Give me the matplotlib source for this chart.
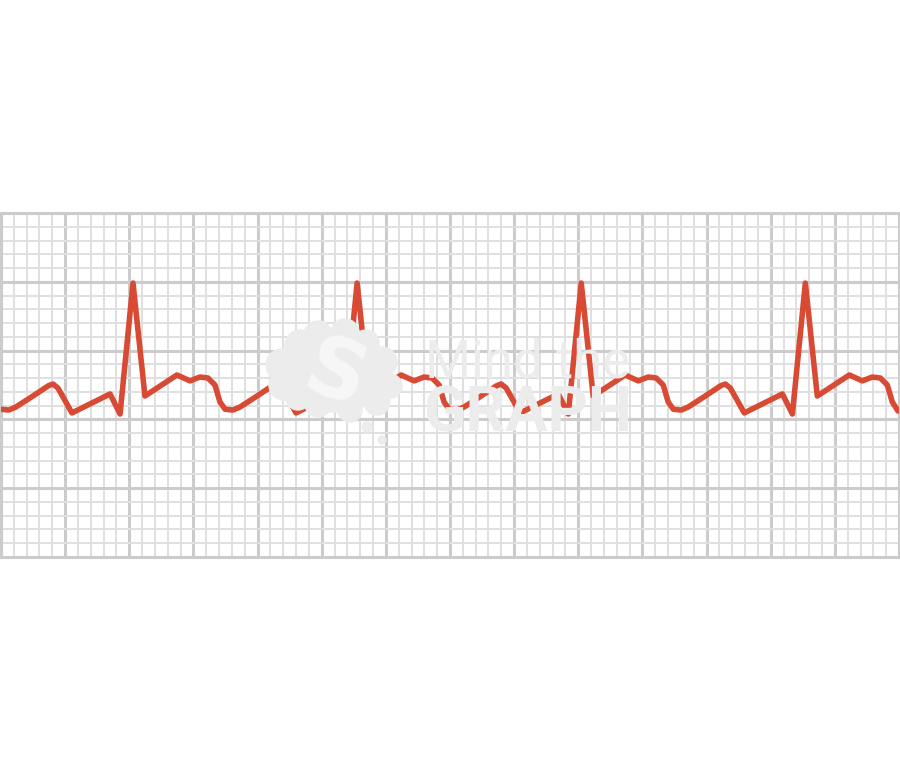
import matplotlib
matplotlib.use('Agg')
import matplotlib.pyplot as plt
from matplotlib.patches import Circle, Ellipse

t = [0.00, 0.61, 1.16, 2.49, 3.70, 4.05, 4.44, 5.53, 8.50, 9.28, 10.29, 11.22, 13.72, 14.73, 15.51, 16.13, 16.68, 17.07,
     17.47, 18.08, 18.63, 19.96, 21.17, 21.52, 21.91, 23.00, 25.97, 26.75, 27.76, 28.69, 31.19, 32.20, 32.98, 33.60, 34.15, 34.54,
     34.94, 35.55, 36.10, 37.43, 38.64, 38.99, 39.38, 40.47, 43.44, 44.22, 45.23, 46.16, 48.66, 49.67, 50.45, 51.07, 51.62, 52.01,
     52.41, 53.02, 53.57, 54.90, 56.11, 56.46, 56.85, 57.94, 60.91, 61.69, 62.70, 63.63, 66.13, 67.14, 67.92, 68.54, 69.09, 69.48,
     69.92]
mv = [10.74, 10.68, 10.90, 11.70, 12.45, 12.57, 12.28, 10.47, 11.85, 10.39, 19.91, 11.70, 13.23, 12.80, 13.08, 13.01, 12.50, 11.26,
      10.74, 10.68, 10.90, 11.70, 12.45, 12.57, 12.28, 10.47, 11.85, 10.39, 19.91, 11.70, 13.23, 12.80, 13.08, 13.01, 12.50, 11.26,
      10.74, 10.68, 10.90, 11.70, 12.45, 12.57, 12.28, 10.47, 11.85, 10.39, 19.91, 11.70, 13.23, 12.80, 13.08, 13.01, 12.50, 11.26,
      10.74, 10.68, 10.90, 11.70, 12.45, 12.57, 12.28, 10.47, 11.85, 10.39, 19.91, 11.70, 13.23, 12.80, 13.08, 13.01, 12.50, 11.26,
      10.61]

major_x = list(range(0, 71, 5))
minor_x = [i for i in range(71) if i % 5]
major_y = list(range(0, 26, 5))
minor_y = [i for i in range(26) if i % 5]

W, H = 900, 772
fig = plt.figure(figsize=(9, 7.72), dpi=100)
ax = fig.add_axes([1 / W, 215 / H, 898 / W, 344 / H])
ax.set_xlim(0, 70)
ax.set_ylim(0, 25)
ax.set_xticks(major_x)
ax.set_xticks(minor_x, minor=True)
ax.set_yticks(major_y)
ax.set_yticks(minor_y, minor=True)
ax.grid(which='minor', color='#e0e0e0', lw=1.4)
ax.grid(which='major', color='#cccccc', lw=2.2)
ax.set_axisbelow(True)
ax.tick_params(which='both', length=0, labelbottom=False, labelleft=False)
for s in ax.spines.values():
    s.set_color('#cccccc')
    s.set_linewidth(2.2)

ax.plot(t, mv, color='#d84a33', lw=4.0, solid_joinstyle='round', solid_capstyle='round', zorder=3)

# watermark overlay, pixel coords
ov = fig.add_axes([0, 0, 1, 1])
ov.set_zorder(5)
ov.patch.set_alpha(0)
ov.set_xlim(0, W)
ov.set_ylim(H, 0)
ov.axis('off')
wm = '#ececec'
ov.add_patch(Ellipse((333, 372), 118, 80, color=wm))
for cx, cy, r in [(282, 365, 16), (284, 385, 15), (300, 345, 15), (318, 335, 14), (345, 333, 14),
                  (366, 343, 13), (382, 362, 15), (390, 386, 12), (377, 402, 13), (350, 410, 12),
                  (318, 404, 13), (298, 398, 12), (367, 427, 5), (382, 440, 4)]:
    ov.add_patch(Circle((cx, cy), r, color=wm))
ov.text(336, 376, 'S', color='#f7f7f7', fontsize=60, fontweight='bold', ha='center', va='center',
        family='DejaVu Sans', rotation=-20)
ov.text(425, 378, 'Mind the', color=wm, fontsize=38, family='Roboto', fontweight='normal', va='baseline')
ov.text(423, 432, 'GRAPH', color=wm, fontsize=45, family='Roboto', fontweight='bold', va='baseline')

fig.savefig('out.png', dpi=100)
